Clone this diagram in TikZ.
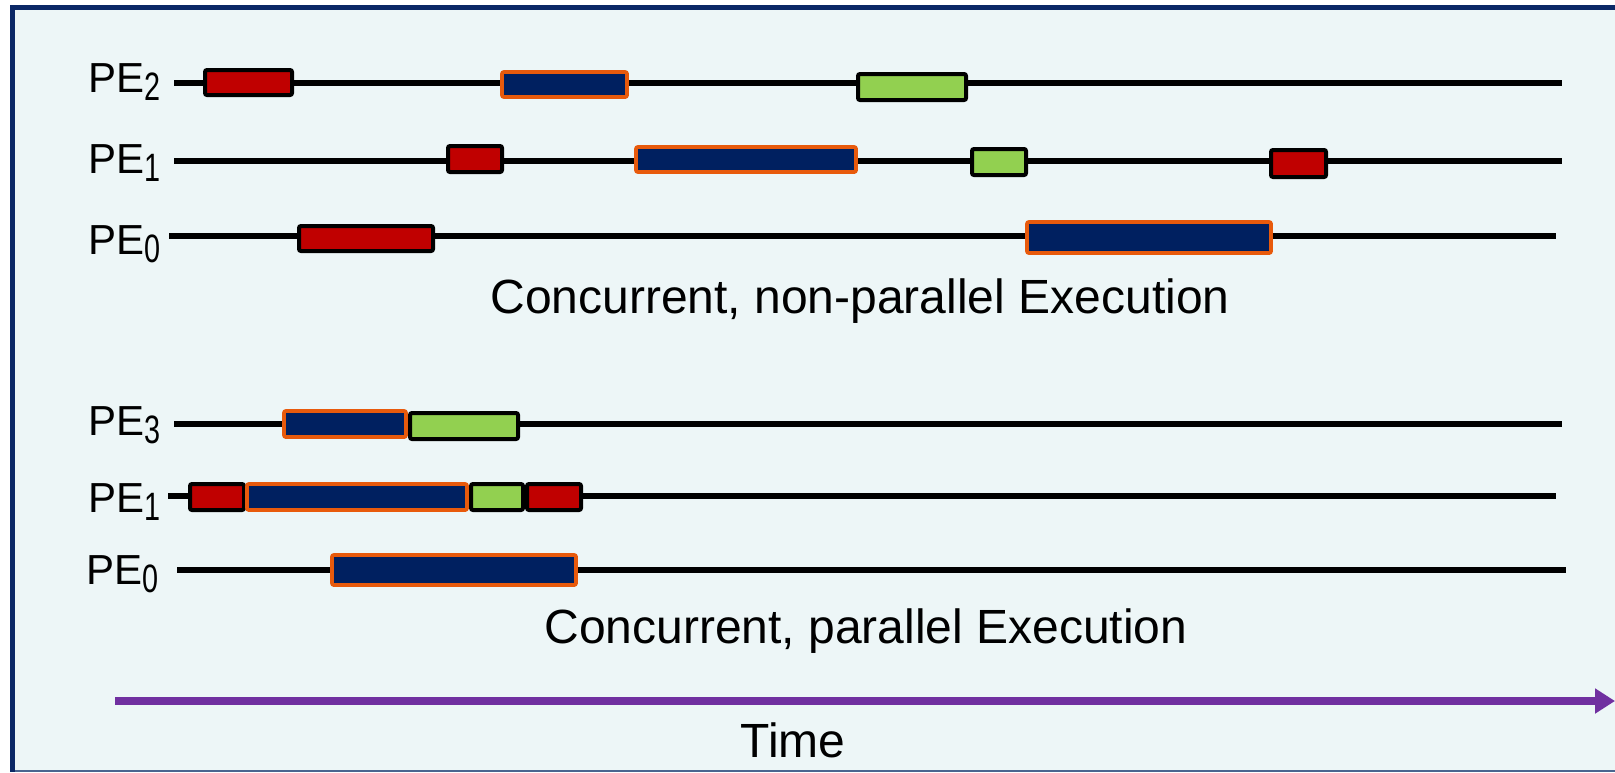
\documentclass[tikz,border=0pt]{standalone}
\usepackage{fontspec}
\usepackage{graphicx}
\setmainfont{Liberation Sans}
\usetikzlibrary{arrows.meta,fit}
\definecolor{bgc}{HTML}{EDF6F7}
\definecolor{framec}{HTML}{0B2866}
\definecolor{framelight}{HTML}{4A6590}
\definecolor{taskred}{HTML}{C00000}
\definecolor{tasknavy}{HTML}{002060}
\definecolor{taskgreen}{HTML}{92D050}
\definecolor{taskorange}{HTML}{E85A0C}
\definecolor{timepurple}{HTML}{7030A0}
\newcommand\pelab[1]{PE\raisebox{-4pt}{\scalebox{0.8}[1.1]{\fontsize{18}{18}\selectfont #1}}}
\newcommand\taskbox[6]{\node[#2, fit={(#3+2,#4+2) (#5-2,#6-2)}] (#1) {};}
\tikzset{
  basebox/.style={inner sep=0pt, outer sep=0pt, line width=2pt, rounded corners=1pt},
  redbox/.style={basebox, draw=black, fill=taskred},
  greenbox/.style={basebox, draw=black, fill=taskgreen},
  navybox/.style={basebox, draw=taskorange, fill=tasknavy, line width=1.9pt},
  timeline/.style={line width=3pt, black},
  pelabel/.style={inner sep=0pt, font=\fontsize{21}{21}\selectfont, anchor=base west},
  caption/.style={inner sep=0pt, font=\fontsize{24}{24}\selectfont, anchor=base},
  timearrow/.style={line width=4pt, timepurple, -{Triangle[length=10pt,width=12pt]}}
}
\begin{document}
\begin{tikzpicture}[x=0.5pt,y=-0.5pt]
\useasboundingbox (0,0) rectangle (1615,772);
\clip (0,0) rectangle (1615,772);
\fill[white] (0,0) rectangle (1615,772);
\fill[bgc] (12.5,7.5) rectangle (1640,771);
\draw[framelight, line width=1pt] (12.5,771) -- (1640,771);
\draw[framec, line width=2.5pt] (1640,7.5) -- (12.5,7.5) -- (12.5,772);

% labels
\node[pelabel] (lA2) at (88,92) {\pelab{2}};
\node[pelabel] (lA1) at (88,173) {\pelab{1}};
\node[pelabel] (lA0) at (88,254) {\pelab{0}};
\node[pelabel] (lB3) at (88,435) {\pelab{3}};
\node[pelabel] (lB1) at (88,512) {\pelab{1}};
\node[pelabel] (lB0) at (86,584) {\pelab{0}};

% timelines
\coordinate (a2s) at (174,82.5);  \coordinate (a2e) at (1562,82.5);
\coordinate (a1s) at (174,160.5); \coordinate (a1e) at (1562,160.5);
\coordinate (a0s) at (169,236);   \coordinate (a0e) at (1556,236);
\coordinate (b3s) at (174,424);   \coordinate (b3e) at (1562,424);
\coordinate (b1s) at (168,496);   \coordinate (b1e) at (1556,496);
\coordinate (b0s) at (177,570);   \coordinate (b0e) at (1566,570);
\draw[timeline] (a2s) -- (a2e);
\draw[timeline] (a1s) -- (a1e);
\draw[timeline] (a0s) -- (a0e);
\draw[timeline] (b3s) -- (b3e);
\draw[timeline] (b1s) -- (b1e);
\draw[timeline] (b0s) -- (b0e);

% concurrent, non-parallel
\taskbox{a2r}{redbox}{203}{68}{294}{97}
\taskbox{a2n}{navybox}{500}{70}{629}{99}
\taskbox{a2g}{greenbox}{856}{72}{968}{102}
\taskbox{a1r}{redbox}{446}{144}{504}{174}
\taskbox{a1n}{navybox}{634}{145}{858}{174}
\taskbox{a1g}{greenbox}{970}{147}{1028}{177}
\taskbox{a1r2}{redbox}{1269}{148}{1328}{179}
\taskbox{a0r}{redbox}{297}{224}{435}{253}
\taskbox{a0n}{navybox}{1025}{220}{1273}{255}

% concurrent, parallel
\taskbox{b3n}{navybox}{282}{409}{408}{439}
\taskbox{b3g}{greenbox}{408}{411}{520}{441}
\taskbox{b1r}{redbox}{188}{482}{246}{512}
\taskbox{b1g}{greenbox}{469}{482}{525}{512}
\taskbox{b1r2}{redbox}{525}{482}{583}{512}
\taskbox{b1n}{navybox}{245}{482}{469}{512}
\taskbox{b0n}{navybox}{330}{553}{578}{587}

% captions
\node[caption] (capA) at (860,313) {Concurrent, non-parallel Execution};
\node[caption] (capB) at (866,643) {Concurrent, parallel Execution};

% time arrow
\coordinate (t0) at (115,701);
\coordinate (t1) at (1615,701);
\draw[timearrow] (t0) -- (t1);
\node[caption] (time) at (793,757) {Time};
\end{tikzpicture}
\end{document}
